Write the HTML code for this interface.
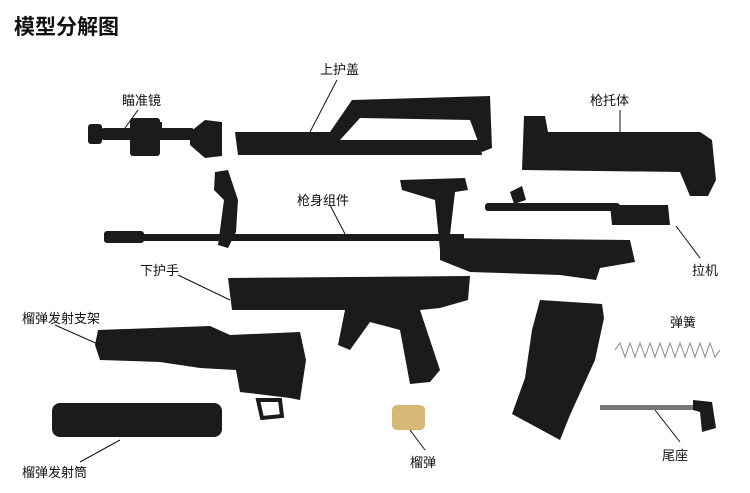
<!DOCTYPE html>
<html><head><meta charset="utf-8"><style>
html,body{margin:0;padding:0;background:#fff;width:750px;height:493px;overflow:hidden}
svg{display:block}
text{font-family:"Liberation Sans","Noto Sans CJK SC",sans-serif;fill:#111;font-size:13px}
</style></head><body>
<svg width="750" height="493" viewBox="0 0 750 493">
<text x="14" y="34" style="font-size:21px;font-weight:bold">模型分解图</text>
<g fill="#1b1b1b" stroke="none">
<!-- scope -->
<rect x="100" y="128" width="95" height="12" rx="4"/>
<rect x="88" y="124" width="14" height="20" rx="3"/>
<rect x="130" y="118" width="30" height="38" rx="3"/>
<rect x="150" y="122" width="12" height="10"/>
<path d="M190 132 L205 120 L222 122 L222 156 L205 158 L190 145Z"/>
<!-- top cover -->
<path d="M235 132 L330 132 L352 100 L490 96 L492 148 L482 152 L470 120 L360 118 L340 140 L480 140 L482 155 L238 155 Z"/>
<!-- stock -->
<path d="M524 116 L545 116 L548 132 L700 132 L712 140 L716 180 L708 196 L690 196 L680 172 L522 170 Z"/>
<!-- body assembly -->
<rect x="104" y="234" width="360" height="7"/>
<rect x="104" y="231" width="40" height="12" rx="3"/>
<path d="M215 172 L228 170 L238 200 L236 232 L228 248 L218 245 L224 200 L214 190Z"/>
<path d="M400 180 L465 178 L468 190 L455 192 L450 235 L462 245 L440 250 L435 200 L402 190Z"/>
<path d="M440 238 L630 240 L635 262 L600 268 L596 280 L560 275 L470 272 L440 260Z"/>
<!-- bolt -->
<rect x="485" y="203" width="135" height="8" rx="3"/>
<path d="M610 205 L668 205 L670 225 L612 225Z"/>
<path d="M510 192 L522 186 L526 200 L514 204Z"/>
<!-- lower handguard -->
<path d="M228 278 L470 276 L468 300 L440 308 L420 310 L440 370 L430 382 L410 384 L400 330 L370 322 L350 350 L338 345 L345 310 L232 310 Z"/>
<!-- grenade launcher bracket -->
<path d="M98 330 L210 326 L230 335 L300 332 L306 360 L300 400 L290 398 L240 392 L236 370 L200 368 L160 362 L100 360 L95 345Z"/>
<path d="M258 400 L280 400 L282 416 L262 418Z" fill="none" stroke="#1b1b1b" stroke-width="4"/>
<!-- magazine -->
<path d="M540 300 L602 304 L604 318 L595 360 L570 415 L560 440 L512 414 L525 378 L532 330Z"/>
<!-- grenade tube -->
<rect x="52" y="403" width="170" height="34" rx="8"/>
<!-- tail -->
<rect x="600" y="405" width="100" height="5" fill="#777"/>
<path d="M693 400 L712 402 L716 428 L702 432 L700 412 L693 410Z"/>
</g>
<!-- grenade -->
<rect x="392" y="405" width="33" height="25" rx="5" fill="#d8b878"/>
<!-- spring -->
<polyline points="615,350 620,343 625,357 630,343 635,357 640,343 645,357 650,343 655,357 660,343 665,357 670,343 675,357 680,343 685,357 690,343 695,357 700,343 705,357 710,343 715,357 720,350" fill="none" stroke="#888" stroke-width="1"/>
<!-- leader lines -->
<g stroke="#111" stroke-width="1" fill="none">
<line x1="337" y1="80" x2="310" y2="132"/>
<line x1="138" y1="110" x2="125" y2="128"/>
<line x1="620" y1="110" x2="620" y2="132"/>
<line x1="330" y1="205" x2="345" y2="234"/>
<line x1="700" y1="258" x2="676" y2="226"/>
<line x1="178" y1="275" x2="230" y2="300"/>
<line x1="55" y1="325" x2="100" y2="345"/>
<line x1="80" y1="462" x2="120" y2="440"/>
<line x1="425" y1="450" x2="410" y2="430"/>
<line x1="680" y1="442" x2="655" y2="410"/>
</g>
<text x="320" y="74">上护盖</text>
<text x="122" y="105">瞄准镜</text>
<text x="590" y="105">枪托体</text>
<text x="297" y="205">枪身组件</text>
<text x="692" y="275">拉机</text>
<text x="140" y="275">下护手</text>
<text x="22" y="323">榴弹发射支架</text>
<text x="670" y="327">弹簧</text>
<text x="22" y="477">榴弹发射筒</text>
<text x="410" y="467">榴弹</text>
<text x="662" y="460">尾座</text>
</svg>
</body></html>
